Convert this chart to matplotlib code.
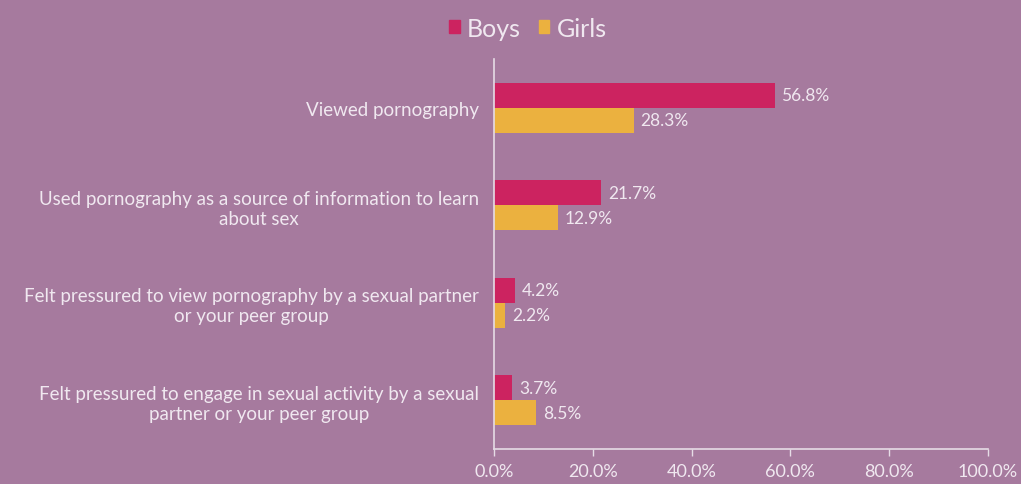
import numpy as np
import matplotlib.pyplot as plt
from matplotlib.patches import Patch

categories = [
    "Viewed pornography",
    "Used pornography as a source of information to learn\nabout sex",
    "Felt pressured to view pornography by a sexual partner\nor your peer group",
    "Felt pressured to engage in sexual activity by a sexual\npartner or your peer group",
]
boys = [56.8, 21.7, 4.2, 3.7]
girls = [28.3, 12.9, 2.2, 8.5]
xticks = [0, 20, 40, 60, 80, 100]

BG = "#A67A9E"
BOYS_C = "#CC2360"
GIRLS_C = "#EBB13F"
TXT = "#F0E8F0"
AXC = "#E6DCE6"

plt.rcParams["font.family"] = ["Lato", "DejaVu Sans"]

fig = plt.figure(figsize=(10.21, 4.85), dpi=100, facecolor=BG)
ax = fig.add_axes([494 / 1021, 35 / 485, 494 / 1021, 390 / 485], facecolor=BG)

y = np.arange(len(categories))
h = 0.255
ax.barh(y - h / 2, boys, height=h, color=BOYS_C)
ax.barh(y + h / 2, girls, height=h, color=GIRLS_C)

# value labels just past the end of each bar
for yi, b, g in zip(y, boys, girls):
    ax.text(b + 1.4, yi - h / 2, f"{b:.1f}%", va="center", ha="left",
            color=TXT, fontsize=12.5)
    ax.text(g + 1.4, yi + h / 2, f"{g:.1f}%", va="center", ha="left",
            color=TXT, fontsize=12.5)

ax.set_xlim(0, 100)
ax.set_ylim(3.5, -0.5)
ax.set_xticks(xticks)
ax.set_xticklabels([f"{t:.1f}%" for t in xticks], color=TXT, fontsize=13)
ax.set_yticks(y)
ax.set_yticklabels(categories, color=TXT, fontsize=13.5, ha="right",
                   multialignment="center")
ax.tick_params(axis="y", length=0, pad=11)
ax.tick_params(axis="x", length=5, color=AXC, width=1, pad=5)

for s in ["top", "right"]:
    ax.spines[s].set_visible(False)
for s in ["left", "bottom"]:
    ax.spines[s].set_color(AXC)
    ax.spines[s].set_linewidth(1.2)

handles = [Patch(color=BOYS_C), Patch(color=GIRLS_C)]
fig.legend(handles, ["Boys", "Girls"], loc="upper center",
           bbox_to_anchor=(528 / 1021, 1.01), ncol=2, frameon=False,
           fontsize=18, labelcolor=TXT, handlelength=0.42, handleheight=0.42,
           handletextpad=0.3, columnspacing=0.7)

fig.savefig("out.png", dpi=100, facecolor=BG)
